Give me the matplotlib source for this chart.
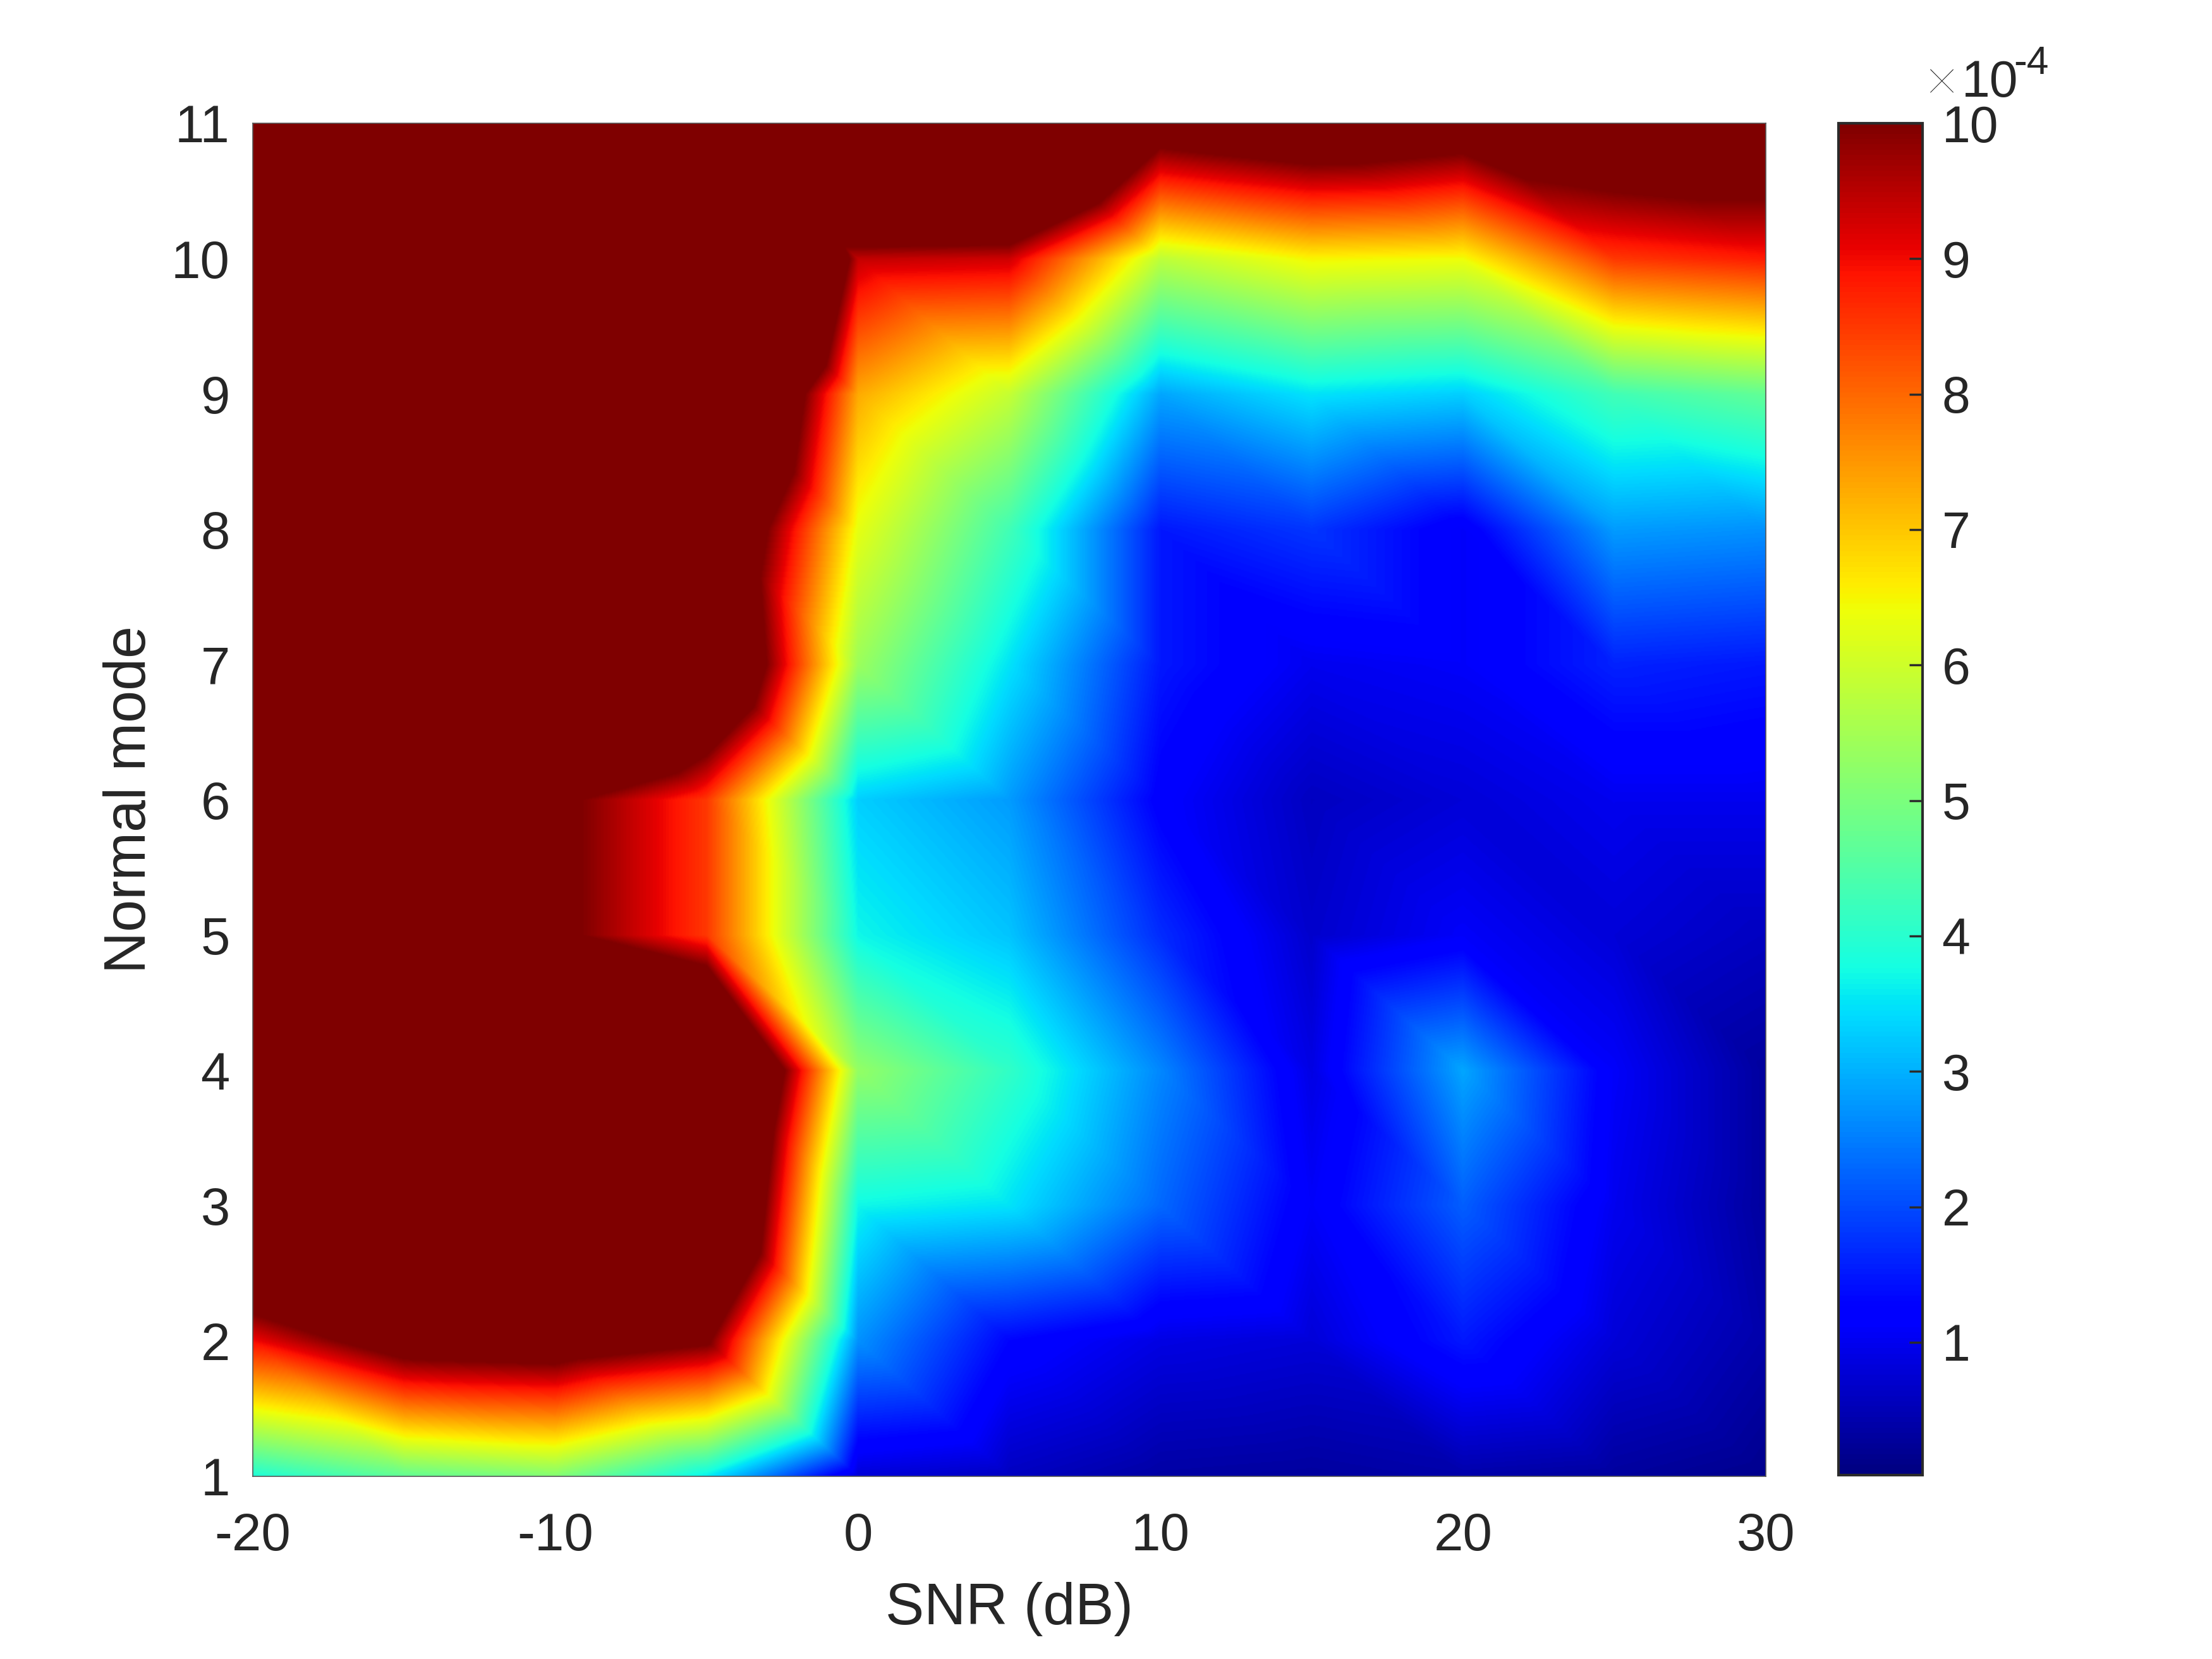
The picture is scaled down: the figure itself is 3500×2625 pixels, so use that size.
import numpy as np
import matplotlib
matplotlib.use("Agg")
import matplotlib.pyplot as plt
import matplotlib.tri as mtri

plt.rcParams["font.family"] = ["Liberation Sans", "DejaVu Sans"]

snr = [-20, -15, -10, -5, 0, 5, 10, 15, 20, 25, 30]
modes = [1, 2, 3, 4, 5, 6, 7, 8, 9, 10, 11]

# error values in units of 1e-4, one row per normal mode
row1 = [3.9, 4.7, 5.1, 3.6, 0.8, 0.6, 0.35, 0.3, 0.4, 0.3, 0.15]
row2 = [9.0, 10.8, 11.0, 10.2, 2.7, 1.3, 0.9, 0.8, 1.5, 0.8, 0.4]
row3 = [14, 15, 15, 14, 3.7, 3.5, 2.3, 1.1, 2.2, 1.0, 0.3]
row4 = [16, 16, 16, 15, 5.3, 4.1, 2.6, 0.9, 2.9, 1.1, 0.3]
row5 = [15, 15, 10.3, 8.5, 3.7, 3.2, 1.7, 0.7, 1.1, 0.8, 0.6]
row6 = [15, 15, 10.3, 8.5, 3.3, 2.8, 1.2, 0.6, 0.8, 1.0, 1.0]
row7 = [16, 16, 16, 13, 5.4, 3.5, 1.5, 1.0, 1.1, 1.6, 1.5]
row8 = [16, 16, 16, 12.5, 6.3, 4.3, 1.5, 1.8, 1.1, 2.8, 2.7]
row9 = [16, 16, 16, 15, 7.3, 5.9, 2.9, 3.5, 3.3, 4.3, 4.7]
row10 = [16, 16, 16, 20, 9.4, 9.3, 5.8, 6.5, 6.4, 8.5, 8.8]
row11 = [16, 16, 16, 16, 16, 16, 10.9, 11.5, 11.0, 11.5, 11.5]
z = np.array([row1, row2, row3, row4, row5, row6, row7, row8, row9, row10, row11])

cbar_ticks = [1, 2, 3, 4, 5, 6, 7, 8, 9, 10]
xticks = [-20, -10, 0, 10, 20, 30]
xticklabels = ["-20", "-10", "0", "10", "20", "30"]

W, H = 3500, 2625
fig = plt.figure(figsize=(35, 26.25), dpi=100)
ax = fig.add_axes([400 / W, 1 - 2336 / H, (2794 - 400) / W, (2336 - 195) / H])
cax = fig.add_axes([2909 / W, 1 - 2334 / H, (3042 - 2909) / W, (2334 - 195) / H])

# shading interp: triangles split from top left to bottom right
X, Y = np.meshgrid(snr, modes)
nx, ny = len(snr), len(modes)
tris = []
for j in range(ny - 1):
    for i in range(nx - 1):
        a = j * nx + i
        tris.append([a, a + 1, a + nx])
        tris.append([a + 1, a + nx + 1, a + nx])
tr = mtri.Triangulation(X.ravel(), Y.ravel(), tris)
interp = mtri.LinearTriInterpolator(tr, z.ravel())
gx, gy = np.meshgrid(np.linspace(-20, 30, 1600), np.linspace(1, 11, 1430))
zi = interp(gx, gy)
zi = np.ma.filled(zi, 10)

im = ax.imshow(zi, origin="lower", extent=[-20, 30, 1, 11], aspect="auto",
               cmap="jet", vmin=0.02, vmax=10, interpolation="bilinear")
ax.set_xticks(xticks)
ax.set_xticklabels(xticklabels)
ax.set_yticks(modes)
ax.tick_params(length=0, labelsize=60, labelcolor="#262626")
ax.tick_params(axis="x", pad=40)
ax.tick_params(axis="y", pad=26)
ax.set_xlabel("SNR (dB)", fontsize=66, color="#262626", labelpad=24)
ax.set_ylabel("Normal mode", fontsize=66, color="#262626", labelpad=16)
for s in ax.spines.values():
    s.set_linewidth(1.2)
    s.set_color("#555555")

cb = fig.colorbar(im, cax=cax, ticks=cbar_ticks)
cb.outline.set_linewidth(3)
cb.outline.set_edgecolor("#2b2b2b")
cax.tick_params(direction="in", length=15, width=2.5, color="#2b2b2b",
                labelsize=58, labelcolor="#262626", pad=22)

fig.text(3072 / W, 1 - 126 / H, "\u00d7", fontsize=66, color="#111111",
         family="Lato", fontweight="light", ha="center", va="center_baseline")
fig.text(3104 / W, 1 - 153 / H, "10", fontsize=58, color="#262626")
fig.text(3186 / W, 1 - 117 / H, "-4", fontsize=45, color="#262626")

fig.savefig("out.png", dpi=100)
